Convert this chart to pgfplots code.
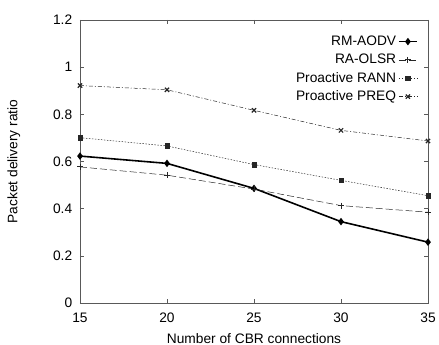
\documentclass[border=0pt]{standalone}
\usepackage{pgfplots}
\pgfplotsset{compat=1.18}
\usepackage{fontspec}
\setmainfont{Liberation Sans}
\begin{document}
\fontsize{13.8}{16}\selectfont
\begin{tikzpicture}[x=1bp,y=1bp]
\path[use as bounding box] (-80bp,-42bp) rectangle (359bp,303bp);
\begin{axis}[
  at={(0,0)}, anchor=south west,
  scale only axis, width=348bp, height=283bp,
  xmin=15, xmax=35, ymin=0, ymax=1.2,
  xtick={15,20,25,30,35}, ytick={0,0.2,0.4,0.6,0.8,1,1.2},
  yticklabels={0,0.2,0.4,0.6,0.8,1,1.2},
  tick align=inside, tick pos=both,
  major tick length=4bp,
  /pgf/number format/assume math mode=true,
  tick label style={font=\fontsize{13.8}{16}\selectfont},
  xticklabel style={yshift=-5bp},
  yticklabel style={xshift=-3bp},
  label style={font=\fontsize{13.8}{16}\selectfont},
  xlabel={Number of CBR connections},
  ylabel={Packet delivery ratio},
  xlabel style={at={(axis description cs:0.5,-0.124)}, anchor=center},
  ylabel style={at={(axis description cs:-0.19,0.5)}, anchor=center},
  axis line style={black!65, line width=0.8pt},
  every tick/.style={black!65},
  legend plot pos=right,
  legend cell align=right,
  legend style={draw=none, fill=none, inner sep=0pt, at={(0.971,0.952)}, anchor=north east,
    font=\fontsize{13.8}{16}\selectfont, row sep=2.5bp},
  legend image code/.code={\draw[mark repeat=2,mark phase=2] plot coordinates {(0bp,0bp) (9bp,0bp) (18bp,0bp)};},
]
\addplot[black, line width=1.6pt, mark=diamond*, mark size=2.5pt]
  coordinates {(15,0.623) (20,0.592) (25,0.486) (30,0.345) (35,0.258)};
\addlegendentry{RM-AODV}
\addplot[black!85, line width=0.5pt, dash pattern=on 7pt off 3pt, mark=+, mark size=3pt, mark options={solid, line width=1pt}]
  coordinates {(15,0.577) (20,0.542) (25,0.483) (30,0.413) (35,0.385)};
\addlegendentry{RA-OLSR}
\addplot[black!85, line width=0.5pt, dash pattern=on 1.5pt off 1.5pt, mark=square*, mark size=2.2pt, mark options={solid}]
  coordinates {(15,0.701) (20,0.666) (25,0.587) (30,0.520) (35,0.455)};
\addlegendentry{Proactive RANN}
\addplot[black!85, line width=0.5pt, dash pattern=on 4pt off 2pt on 1pt off 2pt, mark=x, mark size=3pt, mark options={solid, line width=1.2pt}]
  coordinates {(15,0.922) (20,0.904) (25,0.817) (30,0.732) (35,0.687)};
\addlegendentry{Proactive PREQ}
\end{axis}
\end{tikzpicture}
\end{document}
